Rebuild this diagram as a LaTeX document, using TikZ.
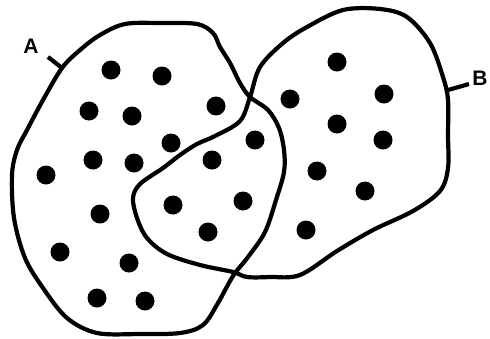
\documentclass[tikz,border=0pt]{standalone}
\usepackage{fontspec}
\setmainfont{Liberation Sans}
\usepackage{tikz}
\usetikzlibrary{positioning}

\begin{document}
\begin{tikzpicture}[
x=1pt,y=-1pt,
blob/.style={line width=4.2pt,line join=round,smooth cycle,tension=0.55},
dot/.style={circle,fill=black,inner sep=0pt,minimum size=19pt},
setlabel/.style={font=\fontsize{21}{21}\selectfont\bfseries,inner sep=0pt},
tick/.style={line width=4.2pt}
]
\useasboundingbox (0,0) rectangle (490,338);
% set A
\draw[blob] plot coordinates {(125,24) (160,23) (197,24) (213,33) (220,47) (230,63)
 (240,83) (250,97) (268,110) (279,128) (284,150) (284,172) (276,200) (265,232)
 (248,257) (233,276) (218,303) (203,325) (180,333) (140,334) (97,333) (67,318)
 (43,288) (25,258) (14,218) (12,175) (17,150) (27,130) (43,100) (62,68) (80,50) (100,35)};
% set B
\draw[blob] plot coordinates {(250,97) (260,67) (283,43) (307,27) (343,10) (380,9)
 (407,17) (430,43) (443,77) (448,100) (448,135) (448,168) (440,191) (413,211)
 (373,230) (337,251) (300,275) (270,277) (247,277) (233,272) (200,265) (167,254)
 (147,238) (137,218) (133,198) (140,184) (163,168) (180,155) (197,144) (215,136) (240,121)};
% elements
\foreach \p [count=\i] in {(111,70),(162,76),(89,111),(132,116),(216,106),(171,143),
 (93,160),(134,163),(212,160),(255,140),(46,175),(100,214),(173,205),(208,232),
 (243,201),(60,252),(129,263),(97,298),(145,301),(290,99),(337,62),(384,94),
 (337,124),(383,140),(317,171),(365,191),(306,230)}
 \node[dot] (d\i) at \p {};
% labels
\node[setlabel] (labA) at (31,46) {A};
\node[setlabel] (labB) at (480,78) {B};
\coordinate (tA0) at (48,57);
\coordinate (tA1) at (62,68);
\coordinate (tB0) at (469,84);
\coordinate (tB1) at (448,90);
\draw[tick] (tA0)--(tA1);
\draw[tick] (tB0)--(tB1);
\end{tikzpicture}
\end{document}
